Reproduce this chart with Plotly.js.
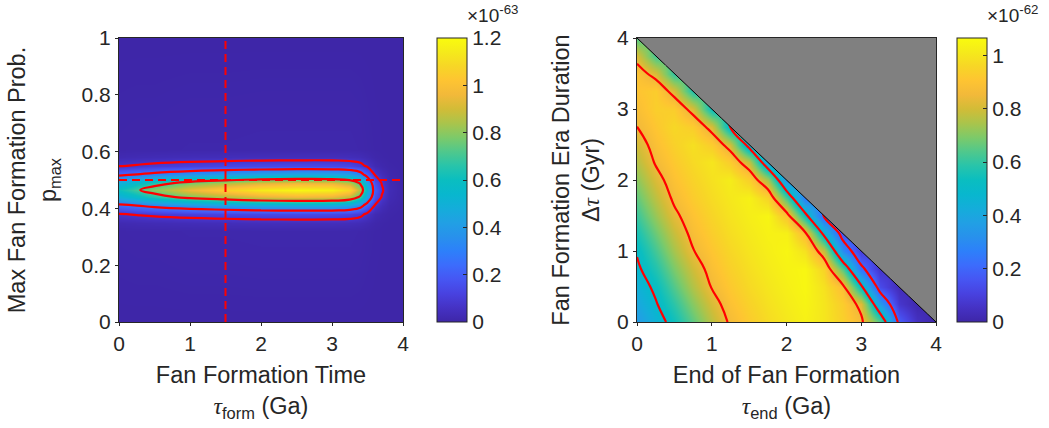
<!DOCTYPE html>
<html><head><meta charset="utf-8">
<script src="https://cdn.plot.ly/plotly-3.0.1.min.js"></script>
<style>html,body{margin:0;padding:0;background:#fff}#chart{width:1049px;height:428px}</style>
</head><body><div id="chart"></div>
<script>
// ---------- Left panel: likelihood vs formation time and max probability (units of 1e-63)
const tauForm = [0, 0.25, 0.5, 1, 1.5, 2, 2.5, 3, 3.25, 3.4, 3.5, 3.6, 3.7, 3.8, 4];
const pMax = [0, 0.32, 0.35, 0.38, 0.41, 0.44, 0.465, 0.49, 0.52, 0.55, 0.58, 0.61, 1];
const likeLeft = [
  [0,0,0,0,0,0,0,0,0,0,0,0,0,0,0],
  [.005,.006,.006,.008,.008,.009,.009,.009,.009,.007,.004,.002,.001,0,0],
  [.021,.025,.028,.033,.037,.040,.041,.041,.037,.030,.018,.007,.003,.001,0],
  [.072,.084,.096,.114,.126,.137,.142,.139,.128,.102,.060,.024,.011,.004,0],
  [.222,.259,.296,.352,.389,.422,.437,.429,.396,.315,.185,.074,.033,.011,0],
  [.486,.567,.648,.770,.851,.923,.956,.940,.867,.689,.405,.162,.073,.024,0],
  [.600,.700,.800,.950,1.05,1.14,1.18,1.16,1.07,.850,.500,.200,.090,.030,0],
  [.486,.567,.648,.770,.851,.923,.956,.940,.867,.689,.405,.162,.073,.024,0],
  [.222,.259,.296,.352,.389,.422,.437,.429,.396,.315,.185,.074,.033,.011,0],
  [.072,.084,.096,.114,.126,.137,.142,.139,.128,.102,.060,.024,.011,.004,0],
  [.021,.025,.028,.033,.037,.040,.041,.041,.037,.030,.018,.007,.003,.001,0],
  [.005,.006,.006,.008,.008,.009,.009,.009,.009,.007,.004,.002,.001,0,0],
  [0,0,0,0,0,0,0,0,0,0,0,0,0,0,0]
];
const leftContourLevels = [0.077, 0.26, 0.72];
const bestTauForm = 1.5;
const bestPmax = 0.5;
const leftTicks = [0, 0.2, 0.4, 0.6, 0.8, 1, 1.2];

// ---------- Right panel: likelihood vs end of formation and duration (units of 1e-62)
const tauEnd = [0,0.25,0.5,0.75,1,1.25,1.5,1.75,2,2.25,2.5,2.75,3,3.25,3.5,3.75,4];
const deltaTau = [0,0.25,0.5,0.75,1,1.25,1.5,1.75,2,2.25,2.5,2.75,3,3.25,3.5,3.75,4];
// one column per tauEnd value, listed from deltaTau = 0 upwards (only tauEnd + deltaTau <= 4)
const likeRightCols = [
  [.35,.40,.44,.48,.51,.56,.61,.66,.71,.76,.80,.85,.88,.905,.90,.81,.64],
  [.45,.49,.525,.575,.625,.675,.725,.772,.815,.859,.888,.913,.936,.93,.81,.62],
  [.54,.59,.64,.69,.74,.784,.83,.868,.895,.92,.942,.962,.93,.81,.60],
  [.655,.705,.755,.796,.845,.877,.90,.928,.948,.968,.984,.93,.81,.57],
  [.768,.81,.856,.885,.91,.934,.954,.973,.988,1.0,.93,.81,.53],
  [.865,.893,.918,.94,.96,.978,.993,1.006,1.019,.93,.80,.49],
  [.925,.946,.966,.982,.997,1.01,1.023,1.033,.94,.78,.43],
  [.972,.987,1.001,1.014,1.026,1.036,1.046,.95,.74,.37],
  [1.005,1.018,1.029,1.039,1.048,1.03,.90,.62,.31],
  [1.032,1.042,1.05,1.05,.99,.87,.54,.25],
  [1.0,1.0,.99,.95,.78,.46,.19],
  [.94,.93,.88,.64,.30,.14],
  [.87,.82,.52,.23,.09],
  [.65,.35,.13,.06],
  [.18,.07,.03],
  [.05,.01],
  [0]
];
const rightContourLevels = [0.2, 0.5, 0.85];
const tauMax = 4;
const rightTicks = [0, 0.2, 0.4, 0.6, 0.8, 1];

// ---------- build
const likeRight = deltaTau.map((_, j) => tauEnd.map((_, i) => j < likeRightCols[i].length ? likeRightCols[i][j] : null));

const parula = [
  [0.00,'rgb(62,38,168)'],[0.05,'rgb(69,50,196)'],[0.10,'rgb(72,66,224)'],[0.15,'rgb(70,86,243)'],
  [0.20,'rgb(60,108,252)'],[0.25,'rgb(45,128,250)'],[0.30,'rgb(40,145,236)'],[0.35,'rgb(33,160,228)'],
  [0.40,'rgb(20,173,218)'],[0.45,'rgb(8,183,206)'],[0.50,'rgb(10,190,192)'],[0.55,'rgb(40,196,170)'],
  [0.60,'rgb(80,200,140)'],[0.65,'rgb(125,202,105)'],[0.70,'rgb(170,196,75)'],[0.75,'rgb(210,188,55)'],
  [0.80,'rgb(242,185,58)'],[0.85,'rgb(254,196,50)'],[0.90,'rgb(247,214,38)'],[0.95,'rgb(245,234,27)'],
  [1.00,'rgb(249,251,14)']
];

const W = 1049, H = 428;
const FONT = 'Liberation Sans, Arial, sans-serif';
const INK = '#262626';
const px = v => v / W, py = v => 1 - v / H;

function cbar(xPix, ticks) {
  return {
    x: px(xPix), xanchor: 'left', y: py(322), yanchor: 'bottom', xpad: 0, ypad: 0,
    len: 284 / H, lenmode: 'fraction', thickness: 30, thicknessmode: 'pixels',
    outlinecolor: INK, outlinewidth: 1, ticks: 'inside', ticklen: 4, tickcolor: INK,
    tickvals: ticks, tickfont: {size: 21, color: INK, family: FONT}, ticklabelpad: 3
  };
}

const traces = [];
traces.push({type:'heatmap', x: tauForm, y: pMax, z: likeLeft, zmin: 0, zmax: 1.2,
  colorscale: parula, zsmooth: 'best', colorbar: cbar(437, leftTicks), hoverinfo: 'skip', xaxis:'x', yaxis:'y'});
leftContourLevels.forEach(l => traces.push({type:'contour', x: tauForm, y: pMax, z: likeLeft,
  autocontour: false, contours: {start: l, end: l, size: 1, coloring: 'none'},
  line: {color: '#ff0000', width: 2.2, smoothing: 1.3}, showscale: false, hoverinfo: 'skip', xaxis:'x', yaxis:'y'}));
traces.push({type:'scatter', mode:'lines', x:[bestTauForm, bestTauForm], y:[0, 1],
  line:{color:'#ff0000', width:2, dash:'8px,5px'}, hoverinfo:'skip', xaxis:'x', yaxis:'y'});
traces.push({type:'scatter', mode:'lines', x:[0, tauMax], y:[bestPmax, bestPmax],
  line:{color:'#ff0000', width:2, dash:'8px,5px'}, hoverinfo:'skip', xaxis:'x', yaxis:'y'});

traces.push({type:'heatmap', x: tauEnd, y: deltaTau, z: likeRight, zmin: 0, zmax: 1.065,
  colorscale: parula, zsmooth: 'best', colorbar: cbar(957, rightTicks), hoverinfo: 'skip', xaxis:'x2', yaxis:'y2'});
rightContourLevels.forEach(l => traces.push({type:'contour', x: tauEnd, y: deltaTau, z: likeRight,
  autocontour: false, contours: {start: l, end: l, size: 1, coloring: 'none'},
  line: {color: '#ff0000', width: 2.2, smoothing: 1.3}, showscale: false, hoverinfo: 'skip', xaxis:'x2', yaxis:'y2'}));
traces.push({type:'scatter', mode:'lines', x:[0, tauMax, tauMax, 0], y:[tauMax, tauMax, 0, tauMax],
  fill:'toself', fillcolor:'#808080', line:{width:0}, hoverinfo:'skip', xaxis:'x2', yaxis:'y2'});
traces.push({type:'scatter', mode:'lines', x:[0, tauMax], y:[tauMax, 0],
  line:{color:'#000000', width:1}, hoverinfo:'skip', xaxis:'x2', yaxis:'y2'});

const TAU = '<span style="font-family:Liberation Serif"><i>τ</i></span>';
function ax(domain, range, dtick, title, standoff, anchor) {
  return {domain, range, dtick, tick0: 0, showline: true, mirror: true, linecolor: INK, linewidth: 1,
    ticks: 'outside', ticklen: 3, tickcolor: INK, tickfont: {size: 21, color: INK, family: FONT},
    showgrid: false, zeroline: false, anchor, fixedrange: true,
    title: {text: title, font: {size: 23.5, color: INK, family: FONT}, standoff}};
}

const layout = {
  width: W, height: H, margin: {l:0, r:0, t:0, b:0}, showlegend: false,
  paper_bgcolor: '#ffffff', plot_bgcolor: '#ffffff', font: {family: FONT, color: INK},
  xaxis: ax([px(119), px(403)], [0, 4], 1, 'Fan Formation Time<br>' + TAU + '<sub>form</sub> (Ga)', 12, 'y'),
  yaxis: ax([py(322), py(38)], [0, 1], 0.2, 'Max Fan Formation Prob.<br>p<sub>max</sub>', 18, 'x'),
  xaxis2: ax([px(637), px(936)], [0, 4], 1, 'End of Fan Formation<br>' + TAU + '<sub>end</sub> (Ga)', 12, 'y2'),
  yaxis2: ax([py(322), py(38)], [0, 4], 1, 'Fan Formation Era Duration<br>Δ' + TAU + ' (Gyr)', 10, 'x2'),
  annotations: [
    {xref:'paper', yref:'paper', x: px(465), y: 1, xanchor:'left', yanchor:'top', showarrow:false,
     text:'×10<sup>-63</sup>', font:{size:19, color:INK, family:FONT}},
    {xref:'paper', yref:'paper', x: px(985), y: 1, xanchor:'left', yanchor:'top', showarrow:false,
     text:'×10<sup>-62</sup>', font:{size:19, color:INK, family:FONT}}
  ]
};

Plotly.newPlot('chart', traces, layout, {staticPlot: true, displayModeBar: false});
</script></body></html>
